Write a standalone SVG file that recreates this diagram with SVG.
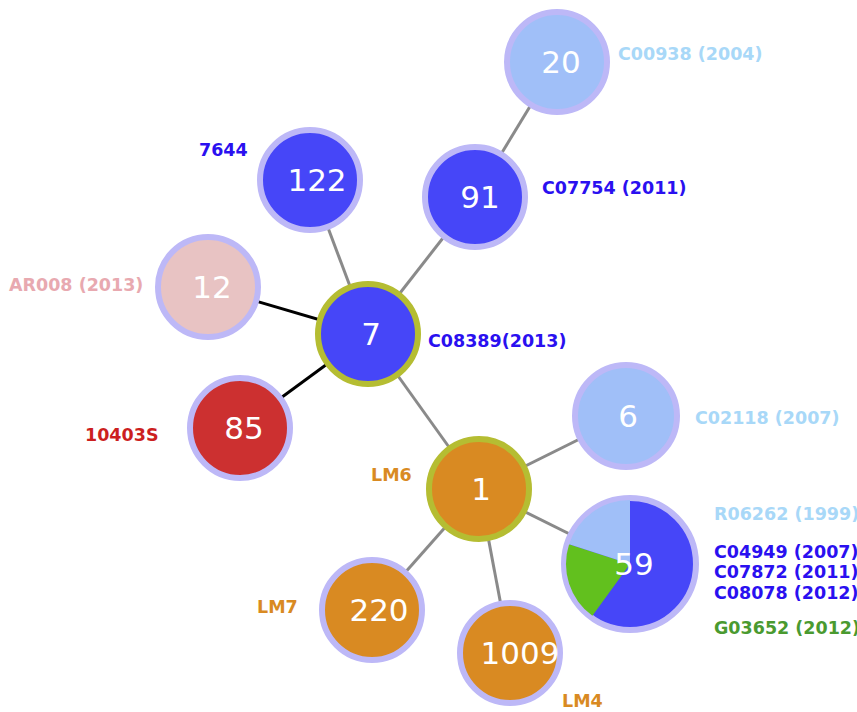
<svg xmlns="http://www.w3.org/2000/svg" width="857" height="712" viewBox="0 0 857 712">
<style>
.edge{stroke:#8a8a8a;stroke-width:3;fill:none}
.edgek{stroke:#000;stroke-width:3;fill:none}
.ring{stroke:#bdb8f7;stroke-width:6}
.ringc{stroke:#b5bd32;stroke-width:6}
.num{font-family:"DejaVu Sans",Verdana,sans-serif;font-size:31px;fill:#fff;text-anchor:middle}
.lab{font-family:"DejaVu Sans","Liberation Sans",sans-serif;font-weight:bold;font-size:17.5px}
.blue{fill:#4646f8}
.lblue{fill:#a0bff8}
.tb{fill:#2a10f0}
.tlb{fill:#a8d8f8}
.tor{fill:#d98a22}
</style>
<rect width="857" height="712" fill="#fff"/>
<g id="connectors">
<line class="edge" x1="557" y1="62" x2="475" y2="197"/>
<line class="edge" x1="475" y1="197" x2="368" y2="334"/>
<line class="edge" x1="310" y1="180" x2="368" y2="334"/>
<line class="edgek" x1="208" y1="287" x2="368" y2="334"/>
<line class="edgek" x1="240" y1="428" x2="368" y2="334"/>
<line class="edge" x1="368" y1="334" x2="479" y2="489"/>
<line class="edge" x1="479" y1="489" x2="626" y2="416"/>
<line class="edge" x1="479" y1="489" x2="630" y2="564"/>
<line class="edge" x1="479" y1="489" x2="372" y2="610"/>
<line class="edge" x1="479" y1="489" x2="510" y2="653"/>
</g>
<g id="n20"><circle cx="557" cy="62" r="50" class="lblue ring"/><text class="num" x="561" y="73">20</text><text class="lab tlb" x="618" y="60">C00938 (2004)</text></g>
<g id="n122"><circle cx="310" cy="180" r="50" class="blue ring"/><text class="num" x="317" y="191">122</text><text class="lab tb" x="199" y="156">7644</text></g>
<g id="n91"><circle cx="475" cy="197" r="50" class="blue ring"/><text class="num" x="480" y="208">91</text><text class="lab tb" x="542" y="194">C07754 (2011)</text></g>
<g id="n12"><circle cx="208" cy="287" r="50" class="ring" fill="#e8c3c3"/><text class="num" x="212" y="298">12</text><text class="lab" fill="#e8a9b0" x="9" y="291">AR008 (2013)</text></g>
<g id="n7"><circle cx="368" cy="334" r="50" class="blue ringc"/><text class="num" x="371" y="345">7</text><text class="lab tb" x="428" y="347">C08389(2013)</text></g>
<g id="n85"><circle cx="240" cy="428" r="50" class="ring" fill="#cc3030"/><text class="num" x="244" y="439">85</text><text class="lab" fill="#cc1f1f" x="85" y="441">10403S</text></g>
<g id="n6"><circle cx="626" cy="416" r="51" class="lblue ring"/><text class="num" x="628" y="427">6</text><text class="lab tlb" x="695" y="424">C02118 (2007)</text></g>
<g id="n1"><circle cx="479" cy="489" r="50" class="ringc" fill="#d98a22"/><text class="num" x="481" y="500">1</text><text class="lab tor" x="371" y="481">LM6</text></g>
<g id="n59">
<circle cx="630" cy="564" r="66" class="ring" fill="#4646f8"/>
<path d="M630 564 L592.4 615.8 A64 64 0 0 1 569.1 544.2 Z" fill="#62c01e"/>
<path d="M630 564 L569.1 544.2 A64 64 0 0 1 630 500 Z" fill="#a0bff8"/>
<text class="num" x="634" y="575">59</text>
<text class="lab tlb" x="714" y="520">R06262 (1999)</text>
<text class="lab tb" x="714" y="558">C04949 (2007)</text>
<text class="lab tb" x="714" y="578">C07872 (2011)</text>
<text class="lab tb" x="714" y="599">C08078 (2012)</text>
<text class="lab" fill="#4a9a30" x="714" y="634">G03652 (2012)</text>
</g>
<g id="n220"><circle cx="372" cy="610" r="50" class="ring" fill="#d98a22"/><text class="num" x="379" y="621">220</text><text class="lab tor" x="257" y="613">LM7</text></g>
<g id="n1009"><circle cx="510" cy="653" r="50" class="ring" fill="#d98a22"/><text class="num" x="520" y="664">1009</text><text class="lab tor" x="562" y="707">LM4</text></g>
</svg>
